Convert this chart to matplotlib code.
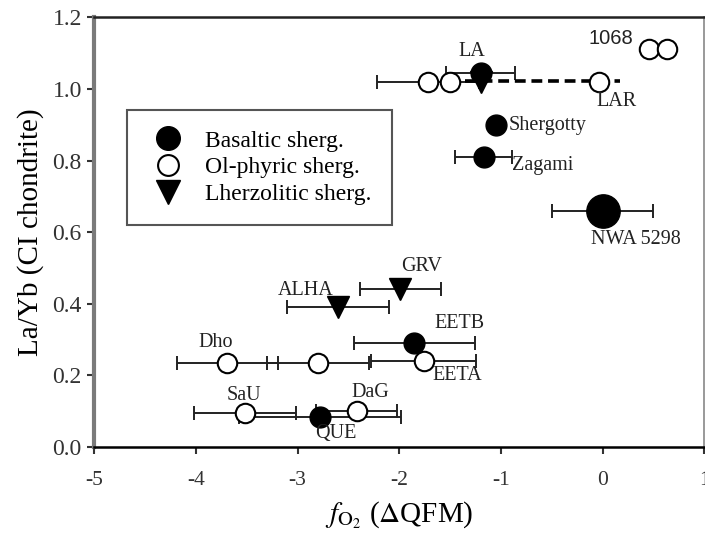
import matplotlib
matplotlib.use("Agg")
import matplotlib.pyplot as plt
from matplotlib.lines import Line2D

plt.rcParams['font.family'] = ['Liberation Serif', 'DejaVu Serif']
plt.rcParams['mathtext.fontset'] = 'stix'
plt.rcParams['axes.unicode_minus'] = False

# basaltic shergottites (filled circles)
bas_names = ['LA', 'Shergotty', 'Zagami', 'NWA 5298', 'EETB', 'QUE']
bas_x = [-1.20, -1.05, -1.17, 0.00, -1.85, -2.78]
bas_y = [1.045, 0.90, 0.81, 0.66, 0.29, 0.085]
bas_xerr = [0.34, 0.0, 0.28, 0.50, 0.60, 0.80]
bas_big = [False, False, False, True, False, False]

# olivine-phyric shergottites (open circles)
ol_names = ['', '', 'LAR', '1068', '', 'Dho', '', 'EETA', 'SaU', 'DaG']
ol_x = [-1.72, -1.50, -0.035, 0.46, 0.63, -3.69, -2.80, -1.76, -3.52, -2.42]
ol_y = [1.02, 1.02, 1.02, 1.11, 1.11, 0.235, 0.235, 0.24, 0.095, 0.10]
ol_xerr = [0.50, 0.0, 0.0, 0.0, 0.0, 0.50, 0.50, 0.52, 0.50, 0.40]

# lherzolitic shergottites (triangles)
lz_names = ['GRV', 'ALHA', '']
lz_x = [-1.99, -2.60, -1.20]
lz_y = [0.44, 0.39, 1.02]
lz_xerr = [0.40, 0.50, 0.0]

# LAR range (dashed)
lar_range_x = [-1.35, 0.17]
lar_range_y = [1.022, 1.022]

# label positions (data coords) and alignment
label_pos = {
    'LA': (-1.29, 1.105, 'center'),
    'Shergotty': (-0.92, 0.897, 'left'),
    'Zagami': (-0.89, 0.785, 'left'),
    'NWA 5298': (0.33, 0.58, 'center'),
    'EETB': (-1.41, 0.346, 'center'),
    'QUE': (-2.62, 0.039, 'center'),
    'LAR': (0.14, 0.964, 'center'),
    '1068': (0.08, 1.14, 'center'),
    'Dho': (-3.81, 0.293, 'center'),
    'EETA': (-1.43, 0.20, 'center'),
    'SaU': (-3.53, 0.145, 'center'),
    'DaG': (-2.28, 0.153, 'center'),
    'GRV': (-1.78, 0.503, 'center'),
    'ALHA': (-2.92, 0.436, 'center'),
}

fig = plt.figure(figsize=(7.05, 5.33), dpi=100)
ax = fig.add_axes([0.1338, 0.1614, 0.865, 0.8062])

ebkw = dict(fmt='none', ecolor='#222222', elinewidth=1.4, capsize=5, capthick=1.4, zorder=2)

# error bars
for xs, ys, es in [(bas_x, bas_y, bas_xerr), (ol_x, ol_y, ol_xerr), (lz_x, lz_y, lz_xerr)]:
    for x, y, e in zip(xs, ys, es):
        if e > 0:
            ax.errorbar([x], [y], xerr=[e], **ebkw)

ax.plot(lar_range_x, lar_range_y, color='black', ls=(0, (3, 1.6)), lw=2.6, zorder=2)

# markers
for x, y, big in zip(bas_x, bas_y, bas_big):
    ax.plot(x, y, 'o', ms=24 if big else 15, mfc='black', mec='black', zorder=4)
ax.plot(ol_x, ol_y, 'o', ls='none', ms=14, mfc='white', mec='black', mew=1.5, zorder=3)
ax.plot(lz_x, lz_y, 'v', ls='none', ms=16, mfc='black', mec='black', zorder=3)

# labels
for name in bas_names + ol_names + lz_names:
    if not name:
        continue
    x, y, ha = label_pos[name]
    fam = ['Liberation Sans'] if name == '1068' else ['Liberation Serif']
    ax.text(x, y, name, ha=ha, va='center', fontsize=14.5, family=fam, color='#222222', zorder=5)

ax.set_xlim(-5, 1)
ax.set_ylim(0, 1.2)
ax.set_xticks([-5, -4, -3, -2, -1, 0, 1])
ax.set_yticks([0.0, 0.2, 0.4, 0.6, 0.8, 1.0, 1.2])
ax.set_yticklabels(['0.0', '0.2', '0.4', '0.6', '0.8', '1.0', '1.2'])
ax.tick_params(direction='out', length=5, width=1.5, colors='#333333')
ax.tick_params(axis='x', pad=12, labelsize=15.5)
ax.tick_params(axis='y', pad=4, labelsize=17)

ax.spines['left'].set_color('#7a7a7a')
ax.spines['left'].set_linewidth(3)
ax.spines['bottom'].set_color('black')
ax.spines['bottom'].set_linewidth(1.8)
ax.spines['top'].set_color('#222222')
ax.spines['top'].set_linewidth(1.8)
ax.spines['right'].set_color('#888888')
ax.spines['right'].set_linewidth(1.2)

ax.set_xlabel(r'$f_{\mathrm{O_2}}$ ($\Delta$QFM)', fontsize=21, labelpad=7)
ax.set_ylabel('La/Yb (CI chondrite)', fontsize=21, labelpad=6)

handles = [
    Line2D([], [], ls='none', marker='o', ms=17, mfc='black', mec='black'),
    Line2D([], [], ls='none', marker='o', ms=15, mfc='white', mec='black', mew=1.5),
    Line2D([], [], ls='none', marker='v', ms=17, mfc='black', mec='black'),
]
leg = ax.legend(handles, ['Basaltic sherg.', 'Ol-phyric sherg.', 'Lherzolitic sherg.'],
                loc='upper left', bbox_to_anchor=(0.054, 0.784), borderaxespad=0,
                fancybox=False, edgecolor='#555555', fontsize=17, labelspacing=0.22,
                handletextpad=0.7, borderpad=0.85, handlelength=1.75, framealpha=1)
leg.get_frame().set_linewidth(1.5)

fig.savefig('out.png', dpi=100)
